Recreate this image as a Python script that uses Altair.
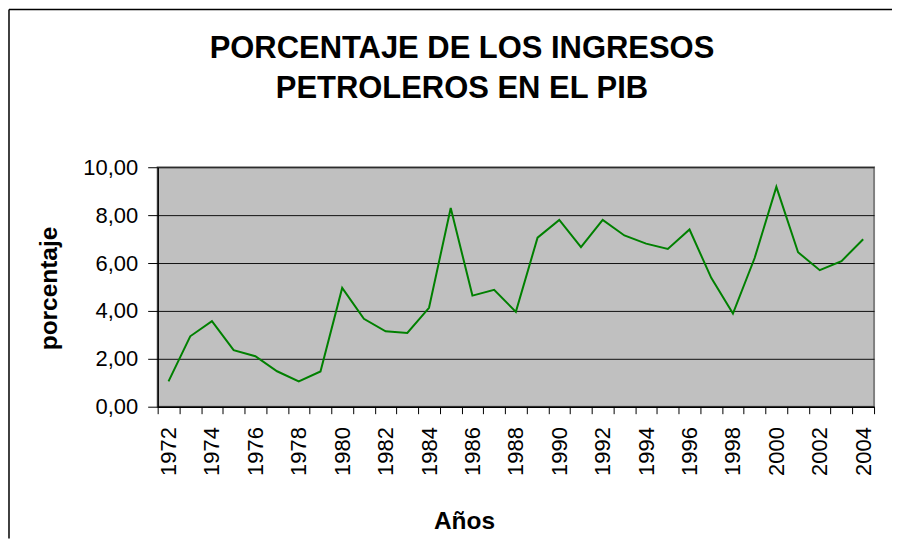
import altair as alt
import pandas as pd

years = [str(y) for y in range(1972, 2005)]
values = [1.06, 2.94, 3.57, 2.36, 2.11, 1.48, 1.06, 1.47, 4.96, 3.67, 3.15,
          3.08, 4.13, 8.30, 4.64, 4.88, 3.96, 7.06, 7.80, 6.66, 7.80, 7.15,
          6.81, 6.59, 7.40, 5.38, 3.89, 6.21, 9.18, 6.45, 5.70, 6.08, 6.99]
y_ticks = [0, 2, 4, 6, 8, 10]
title_lines = ["PORCENTAJE DE LOS INGRESOS", "PETROLEROS EN EL PIB"]

df = pd.DataFrame({"year": years, "value": values})
FONT = "Liberation Sans"

line = alt.Chart(df).mark_line(color="#008000", strokeWidth=2).encode(
    x=alt.X(
        "year:O", sort=None,
        scale=alt.Scale(type="band", paddingInner=0, paddingOuter=0),
        axis=alt.Axis(
            title="Años", tickBand="extent", grid=False,
            labelAngle=270, labelAlign="right", labelBaseline="middle",
            labelExpr="toNumber(datum.value) % 2 == 0 ? datum.label : ''",
            labelFontSize=22, labelPadding=13, tickSize=7,
            titleFontSize=24.5, titleFontWeight="bold",
            titleX=307, titleY=122, titleAlign="center", titleBaseline="alphabetic",
        ),
    ),
    y=alt.Y(
        "value:Q",
        scale=alt.Scale(domain=[0, 10], nice=False),
        axis=alt.Axis(
            title="porcentaje", values=y_ticks, grid=True,
            gridColor="#111111", gridWidth=1,
            labelExpr="replace(format(datum.value, '.2f'), '.', ',')",
            labelFontSize=22, labelPadding=10, tickSize=10,
            titleFontSize=24.5, titleFontWeight="bold",
            titleAngle=270, titleX=-101, titleY=121,
            titleAlign="center", titleBaseline="alphabetic",
        ),
    ),
)

border_df = pd.DataFrame({"k": [0]})
left_border = alt.Chart(border_df).mark_rule(color="black", strokeWidth=1.5).encode(
    x=alt.value(-149), y=alt.value(-158), y2=alt.value(372)
)
top_border = alt.Chart(border_df).mark_rule(color="black", strokeWidth=1.5).encode(
    y=alt.value(-158), x=alt.value(-149), x2=alt.value(736)
)
title_mark = alt.Chart(border_df).mark_text(
    text=title_lines, font=FONT, fontSize=31, fontWeight="bold", color="black",
    align="center", baseline="alphabetic", lineHeight=40,
).encode(x=alt.value(305), y=alt.value(-109))

chart = alt.layer(line, left_border, top_border, title_mark).properties(
    width=718, height=240, padding=0, background="white",
).configure_view(
    fill="#C0C0C0", stroke="#808080", strokeWidth=2
).configure_axis(
    labelFont=FONT, titleFont=FONT, labelColor="black", titleColor="black",
    domainColor="black", domainWidth=1.5, tickColor="black", tickWidth=1,
)

chart.save("out.html", embed_options={"renderer": "svg", "actions": False})
